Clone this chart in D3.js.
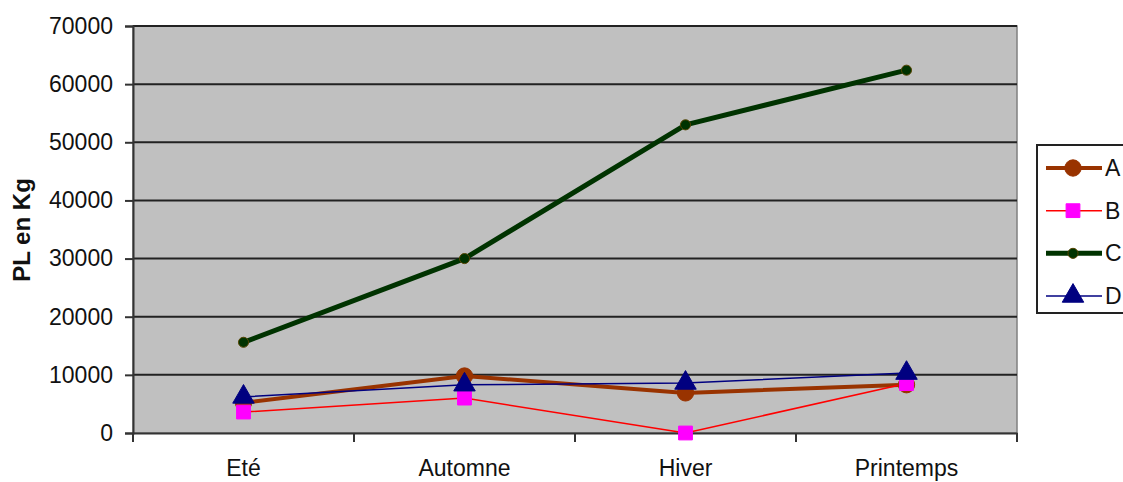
<!DOCTYPE html>
<html><head><meta charset="utf-8">
<script src="https://cdn.jsdelivr.net/npm/d3@7"></script>
<style>
html,body{margin:0;padding:0;background:#fff;}
text{font-family:"Liberation Sans",Arial,sans-serif;}
</style></head>
<body>
<svg id="c" width="1123" height="482"></svg>
<script>
const categories = ["Eté", "Automne", "Hiver", "Printemps"];
const seriesNames = ["A", "B", "C", "D"];
const valuesA = [5200, 9800, 6900, 8300];
const valuesB = [3600, 6000, 0, 8500];
const valuesC = [15600, 30000, 53000, 62400];
const valuesD = [6200, 8300, 8600, 10300];
const yTicks = [0, 10000, 20000, 30000, 40000, 50000, 60000, 70000];
const yTitle = "PL en Kg";

const styles = {
  A: {color: "#993300", width: 4, marker: "circle", mfill: "#993300", mstroke: "#993300", size: 210},
  B: {color: "#FF0000", width: 1.5, marker: "square", mfill: "#FF00FF", mstroke: "#FF00FF", size: 190},
  C: {color: "#003300", width: 5, marker: "circle", mfill: "#003300", mstroke: "#554400", size: 80},
  D: {color: "#000080", width: 1.5, marker: "triangle", mfill: "#000080", mstroke: "#000080", size: 200}
};
const data = {A: valuesA, B: valuesB, C: valuesC, D: valuesD};

const svg = d3.select("#c");
const L = 133, R = 1017, T = 26, B = 433;

const x = d3.scaleBand().domain(categories).range([L, R]).paddingInner(0).paddingOuter(0);
const y = d3.scaleLinear().domain([0, 70000]).range([B, T]);

// plot background
svg.append("rect").attr("x", L).attr("y", T).attr("width", R - L).attr("height", B - T)
  .attr("fill", "#C0C0C0").attr("stroke", "#808080").attr("stroke-width", 1.5);

// gridlines
svg.append("g").selectAll("line").data(yTicks.filter(d => d > 0)).join("line")
  .attr("x1", L).attr("x2", R).attr("y1", d => y(d)).attr("y2", d => y(d))
  .attr("stroke", "#222").attr("stroke-width", 2);

// y axis
const yAxis = svg.append("g").attr("transform", `translate(${L},0)`)
  .call(d3.axisLeft(y).tickValues(yTicks).tickSize(8).tickPadding(12).tickFormat(d3.format("d")));
yAxis.select(".domain").attr("stroke", "#333").attr("stroke-width", 2);
yAxis.selectAll(".tick line").attr("stroke", "#333").attr("stroke-width", 2);
yAxis.selectAll("text").attr("font-size", 23).attr("fill", "#111").attr("font-family", "Liberation Sans, Arial, sans-serif");

// x axis
const xAxis = svg.append("g").attr("transform", `translate(0,${B})`)
  .call(d3.axisBottom(x).tickSize(0).tickPadding(27));
xAxis.select(".domain").attr("stroke", "#333").attr("stroke-width", 2);
xAxis.selectAll("text").attr("font-size", 23).attr("fill", "#111").attr("font-family", "Liberation Sans, Arial, sans-serif");
// category boundary ticks
const bounds = categories.map(c => x(c)).concat([x(categories[categories.length - 1]) + x.bandwidth()]);
svg.append("g").selectAll("line").data(bounds).join("line")
  .attr("x1", d => d).attr("x2", d => d).attr("y1", B).attr("y2", B + 9)
  .attr("stroke", "#333").attr("stroke-width", 2);

// y title
svg.append("text").attr("transform", `translate(30,230) rotate(-90)`)
  .attr("text-anchor", "middle").attr("font-size", 24).attr("font-weight", "bold").attr("fill", "#111")
  .text(yTitle);

const cx = c => x(c) + x.bandwidth() / 2;
const symType = {circle: d3.symbolCircle, square: d3.symbolSquare, triangle: d3.symbolTriangle};

// draw order: D, B, A, C? Use A,B,C,D with markers of D on top
const lineGen = d3.line().x((d, i) => cx(categories[i])).y(d => y(d));
["A", "B", "C", "D"].forEach(k => {
  const s = styles[k];
  svg.append("path").datum(data[k]).attr("d", lineGen).attr("fill", "none")
    .attr("stroke", s.color).attr("stroke-width", s.width).attr("stroke-linejoin", "round");
});
["A", "B", "C", "D"].forEach(k => {
  const s = styles[k];
  svg.append("g").selectAll("path").data(data[k]).join("path")
    .attr("d", d3.symbol().type(symType[s.marker]).size(s.size))
    .attr("transform", (d, i) => `translate(${cx(categories[i])},${y(d)})`)
    .attr("fill", s.mfill).attr("stroke", s.mstroke).attr("stroke-width", 1);
});

// legend
const lg = svg.append("g");
lg.append("rect").attr("x", 1037).attr("y", 145).attr("width", 110).attr("height", 168)
  .attr("fill", "#fff").attr("stroke", "#222").attr("stroke-width", 2);
const legY = d3.scalePoint().domain(seriesNames).range([168, 296]);
seriesNames.forEach(k => {
  const s = styles[k];
  const yy = legY(k);
  lg.append("line").attr("x1", 1046).attr("x2", 1102).attr("y1", yy).attr("y2", yy)
    .attr("stroke", s.color).attr("stroke-width", s.width);
  lg.append("path").attr("d", d3.symbol().type(symType[s.marker]).size(s.size)())
    .attr("transform", `translate(1073,${yy})`).attr("fill", s.mfill).attr("stroke", s.mstroke).attr("stroke-width", 1);
  lg.append("text").attr("x", 1105).attr("y", yy + 8).attr("font-size", 23).attr("fill", "#111").text(k);
});
</script>
</body></html>
